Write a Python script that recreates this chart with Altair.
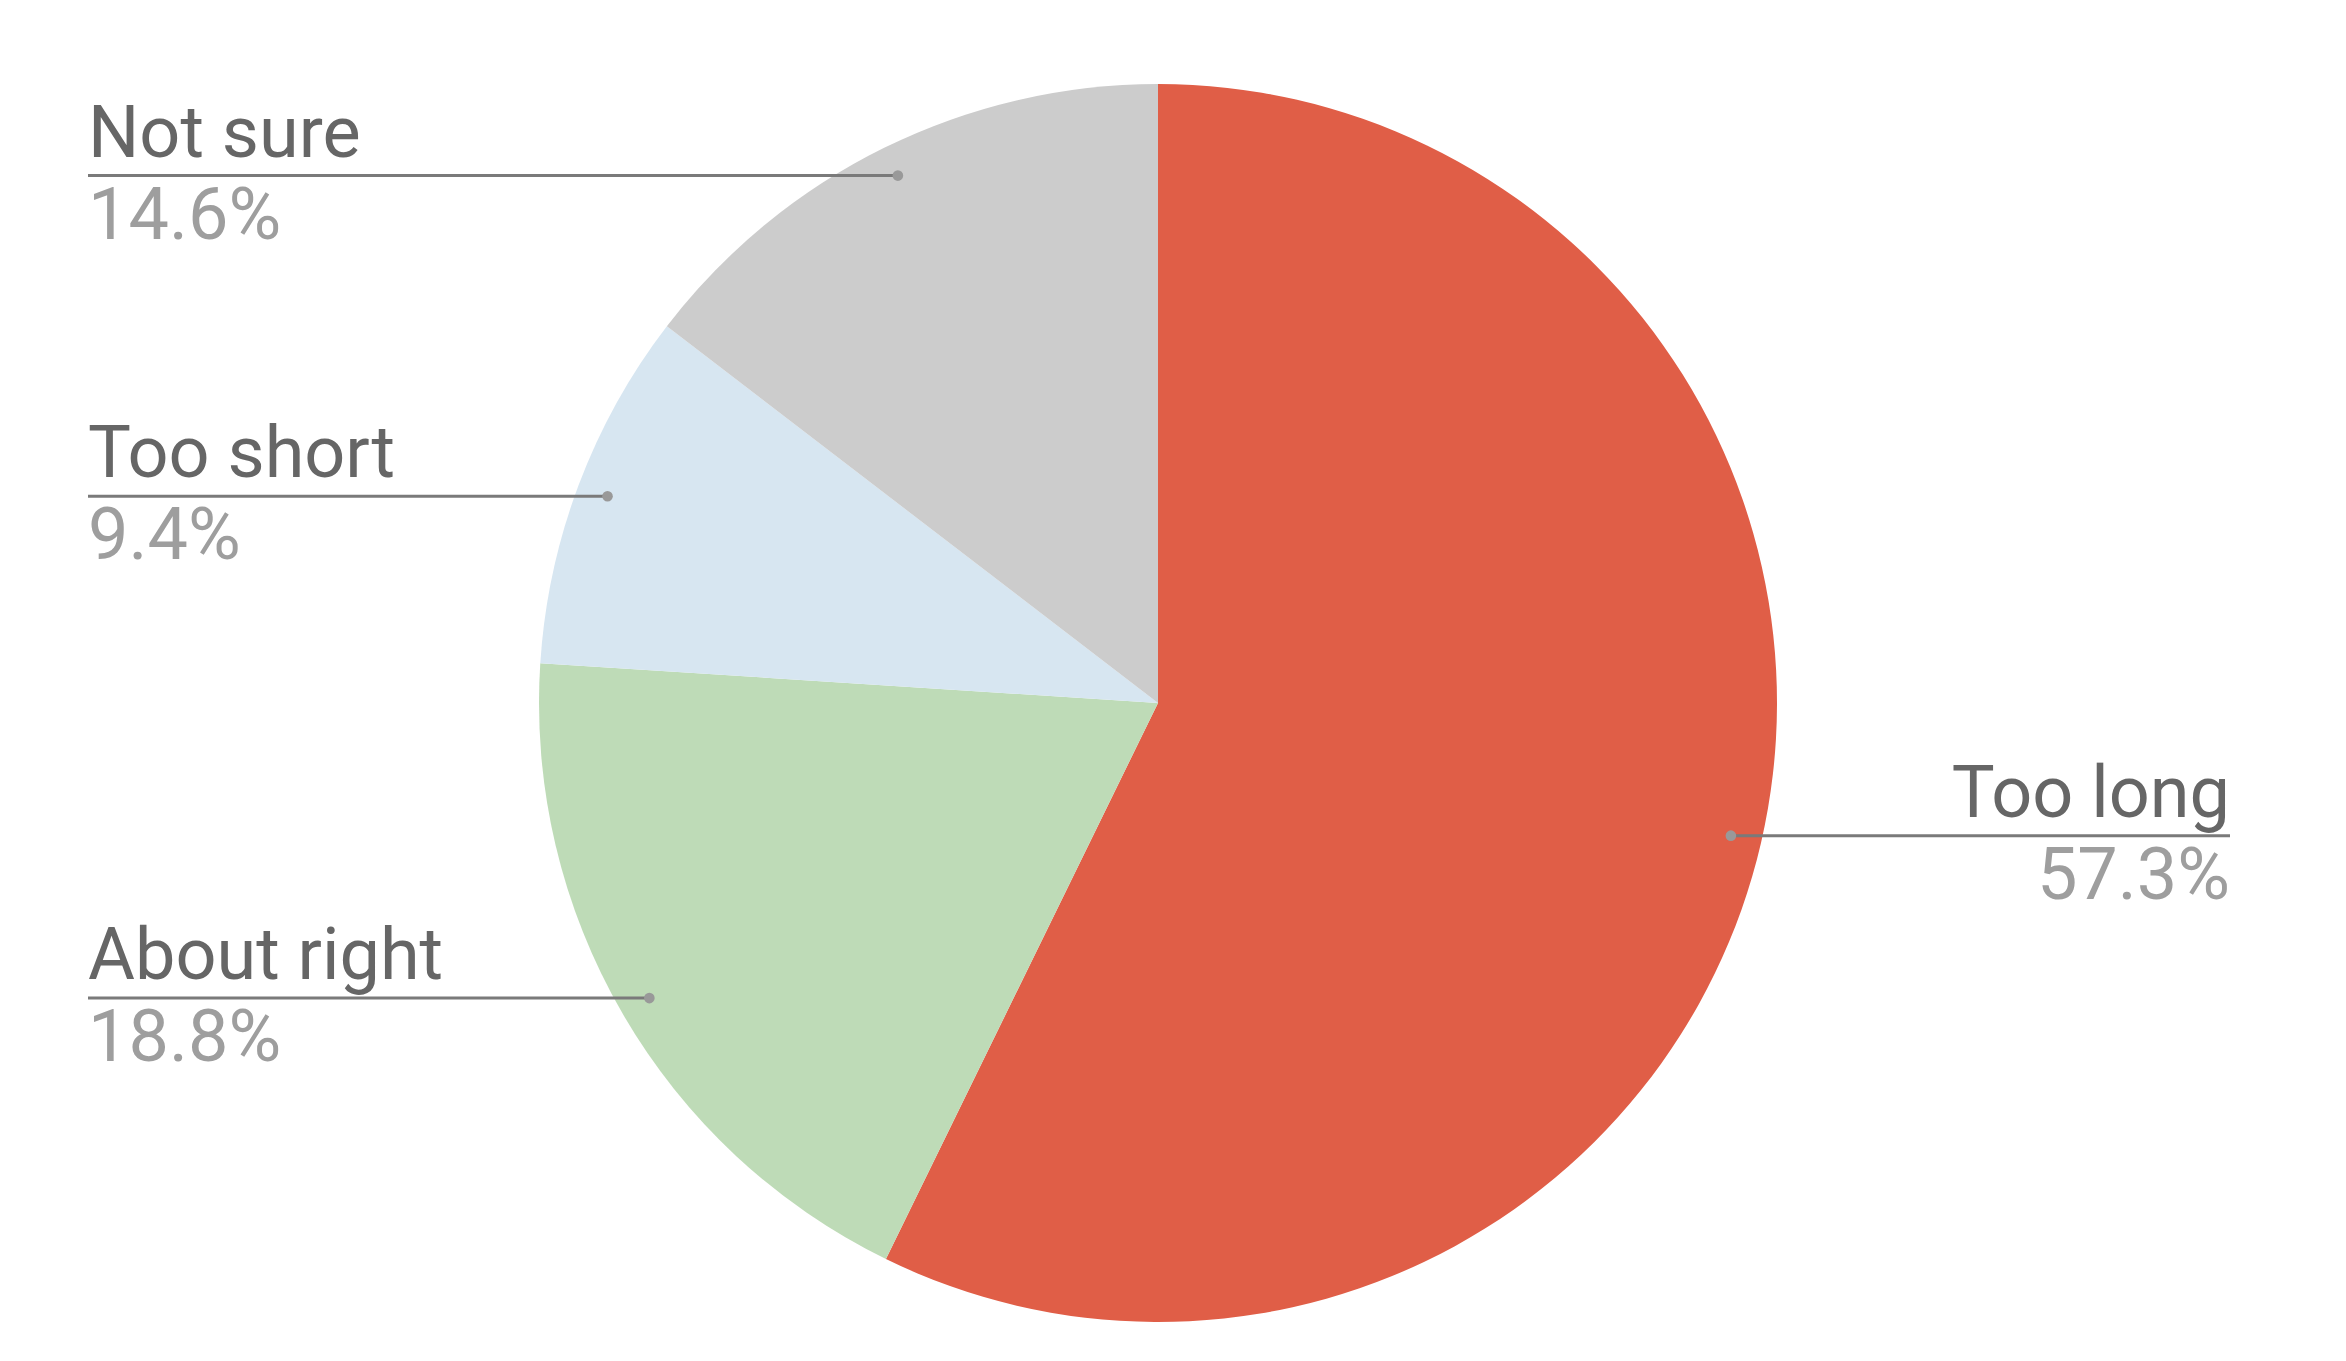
import altair as alt
import pandas as pd

categories = ["Too long", "About right", "Too short", "Not sure"]
values = [57.3, 18.8, 9.4, 14.6]
colors = ["#E05E47", "#BEDBB7", "#D7E6F1", "#CCCCCC"]

df = pd.DataFrame({"idx": list(range(len(categories))), "category": categories, "value": values})

CX, CY, R = 1150, 695, 619
LEFT_X, RIGHT_X = 80, 2222

base = alt.Chart(df).transform_joinaggregate(
    total="sum(value)"
).transform_window(
    cum="sum(value)", sort=[alt.SortField("idx")], frame=[None, 0]
).transform_calculate(
    mid="(datum.cum - datum.value/2) / datum.total * 2 * PI",
).transform_calculate(
    px=f"{CX} + 0.95*{R}*sin(datum.mid)",
    py=f"{CY} - 0.95*{R}*cos(datum.mid)",
    side="datum.mid > PI ? 'left' : 'right'",
    lx=f"datum.mid > PI ? {LEFT_X} : {RIGHT_X}",
    pct="format(datum.value, '.1f') + '%'",
)

pie = alt.Chart(df).mark_arc(outerRadius=R).encode(
    theta=alt.Theta("value:Q", stack=True),
    color=alt.Color("category:N", scale=alt.Scale(domain=categories, range=colors), legend=None),
    order=alt.Order("idx:Q"),
    x=alt.value(CX),
    y=alt.value(CY),
)

rule = base.mark_rule(color="#7A7A7A", strokeWidth=3).encode(
    x=alt.X("px:Q", scale=None),
    x2="lx:Q",
    y=alt.Y("py:Q", scale=None),
)

dots = base.mark_circle(color="#999999", opacity=1, size=113).encode(
    x=alt.X("px:Q", scale=None),
    y=alt.Y("py:Q", scale=None),
)

def labels(side, align):
    b = base.transform_filter(f"datum.side == '{side}'")
    name = b.mark_text(align=align, baseline="alphabetic", dy=-19, font="Roboto",
                       fontSize=72, color="#666666").encode(
        x=alt.X("lx:Q", scale=None), y=alt.Y("py:Q", scale=None), text="category:N")
    pct = b.mark_text(align=align, baseline="alphabetic", dy=63, font="Roboto",
                      fontSize=72, color="#9E9E9E").encode(
        x=alt.X("lx:Q", scale=None), y=alt.Y("py:Q", scale=None), text="pct:N")
    return name + pct

chart = alt.layer(pie, rule, dots, labels("left", "left"), labels("right", "right")).properties(
    width=2330, height=1345, autosize=alt.AutoSizeParams(type="none"), padding=0
).configure_view(stroke=None)

chart.save("out.html", embed_options={"renderer": "svg", "actions": False})
